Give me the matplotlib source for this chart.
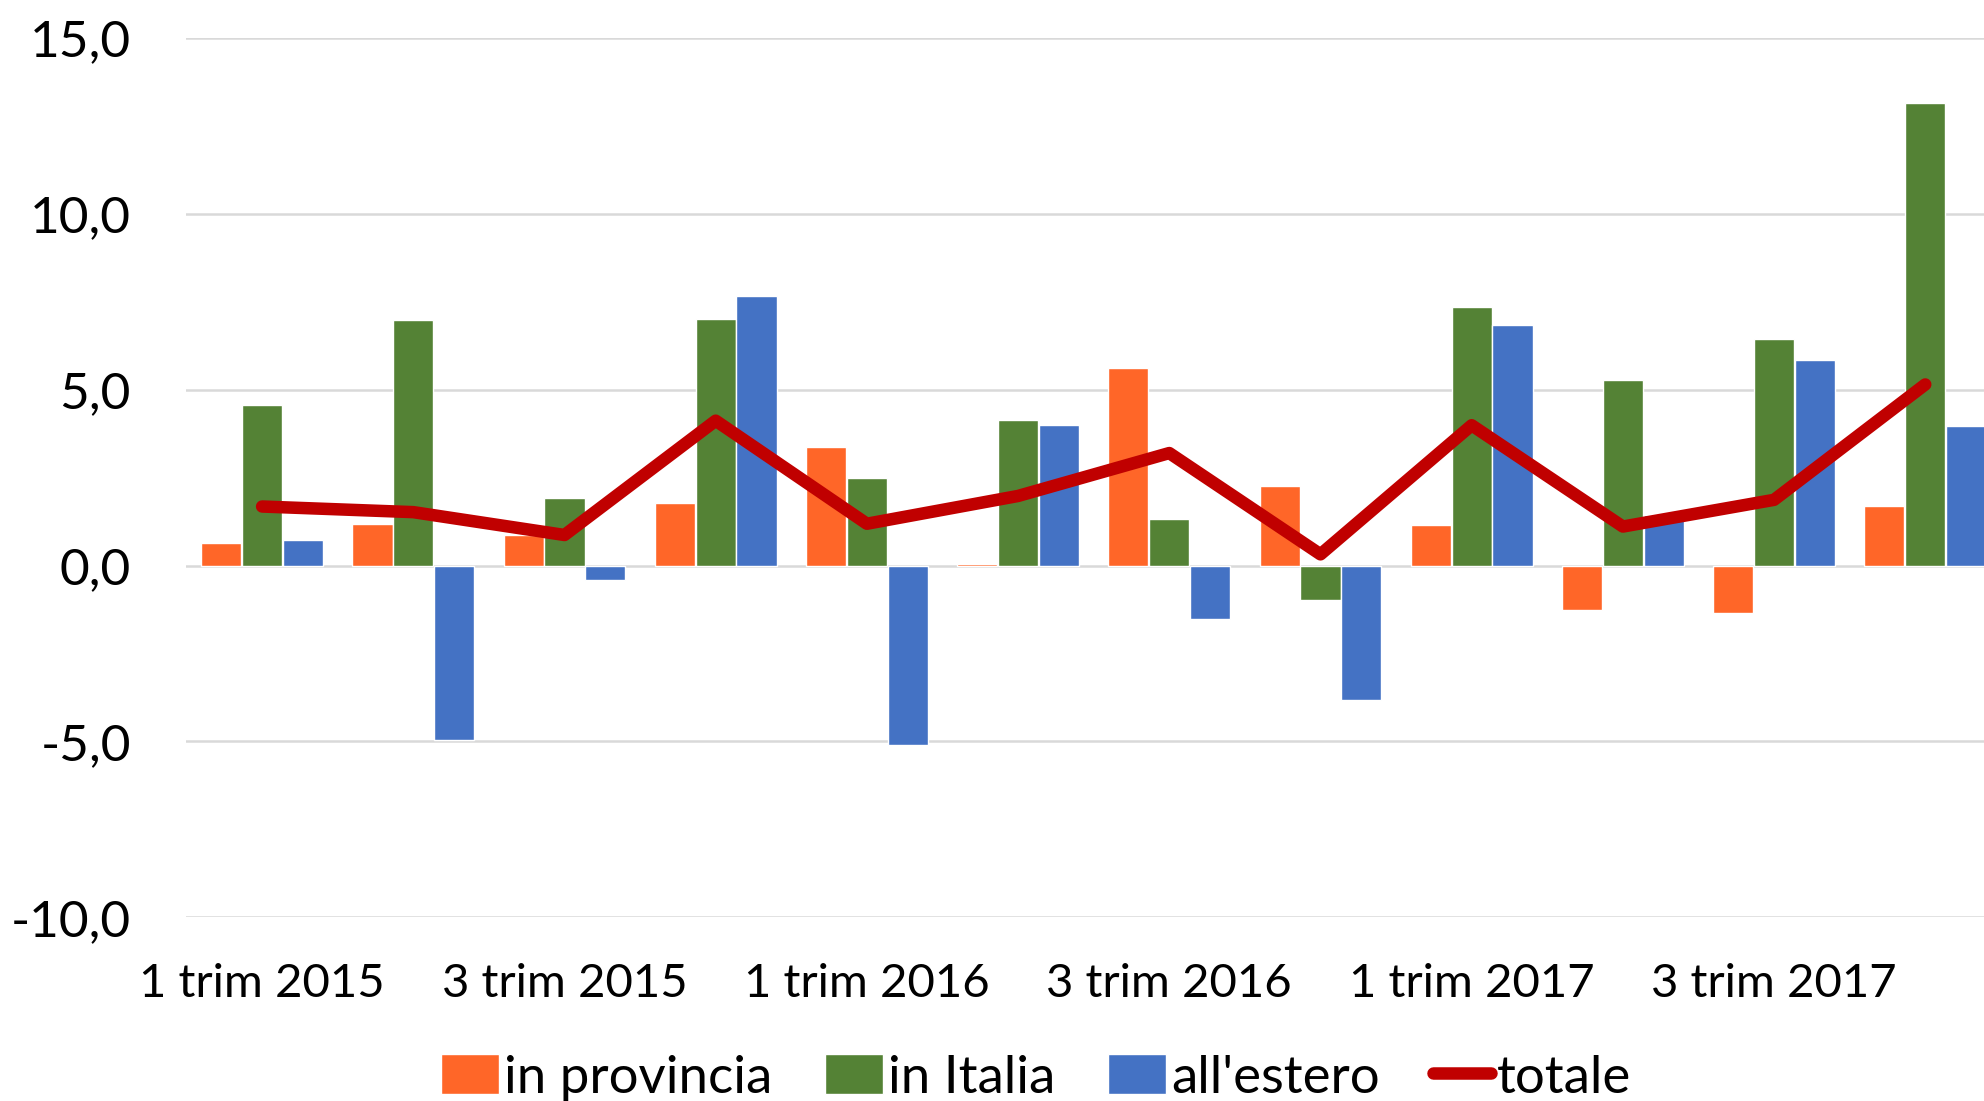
import numpy as np
import matplotlib
matplotlib.use("Agg")
import matplotlib.pyplot as plt
from matplotlib.ticker import FuncFormatter

plt.rcParams['font.family'] = ['Lato', 'DejaVu Sans']

quarters = ['1 trim 2015', '2 trim 2015', '3 trim 2015', '4 trim 2015',
            '1 trim 2016', '2 trim 2016', '3 trim 2016', '4 trim 2016',
            '1 trim 2017', '2 trim 2017', '3 trim 2017', '4 trim 2017']
in_provincia = [0.64, 1.17, 0.88, 1.78, 3.38, 0.04, 5.61, 2.27, 1.15, -1.26, -1.34, 1.70]
in_italia = [4.57, 6.98, 1.91, 7.01, 2.48, 4.14, 1.33, -0.97, 7.34, 5.27, 6.43, 13.14]
all_estero = [0.72, -4.97, -0.42, 7.66, -5.10, 3.99, -1.51, -3.81, 6.83, 1.44, 5.84, 3.97]
totale = [1.68, 1.52, 0.87, 4.12, 1.19, 1.98, 3.20, 0.32, 3.99, 1.11, 1.87, 5.15]

x = np.arange(len(quarters))
w = 0.265
off = 0.27

fig = plt.figure(figsize=(19.84, 11.01), dpi=100)
ax = fig.add_axes([0.094, 0.1668, 0.9145, 0.7987])

b1 = ax.bar(x - off, in_provincia, w, color='#FF6628', edgecolor='white', linewidth=1, label='in provincia', zorder=2)
b2 = ax.bar(x, in_italia, w, color='#548235', edgecolor='white', linewidth=1, label='in Italia', zorder=2)
b3 = ax.bar(x + off, all_estero, w, color='#4472C4', edgecolor='white', linewidth=1, label="all'estero", zorder=2)
l1, = ax.plot(x, totale, color='#C00000', linewidth=9, solid_capstyle='round',
              solid_joinstyle='round', label='totale', zorder=3)

ax.set_xlim(-0.5, len(quarters) - 0.5)
ax.set_ylim(-10, 15)
ax.set_yticks([-10, -5, 0, 5, 10, 15])
ax.yaxis.set_major_formatter(FuncFormatter(lambda v, p: f"{v:.1f}".replace('.', ',')))
ax.set_xticks(x[::2])
ax.set_xticklabels(quarters[::2])
ax.grid(axis='y', color='#D9D9D9', linewidth=1.8, zorder=0)
ax.set_axisbelow(True)
for s in ax.spines.values():
    s.set_visible(False)
ax.tick_params(axis='y', length=0, labelsize=37, pad=40)
ax.tick_params(axis='x', length=0, labelsize=34, pad=33)

fig.legend([b1, b2, b3, l1], ['in provincia', 'in Italia', "all'estero", 'totale'],
           loc='center', bbox_to_anchor=(0.522, 0.021), ncol=4, frameon=False,
           fontsize=38, handlelength=1.1, handleheight=0.8, handletextpad=0.1,
           columnspacing=1.0)

fig.savefig('out.png', dpi=100)
